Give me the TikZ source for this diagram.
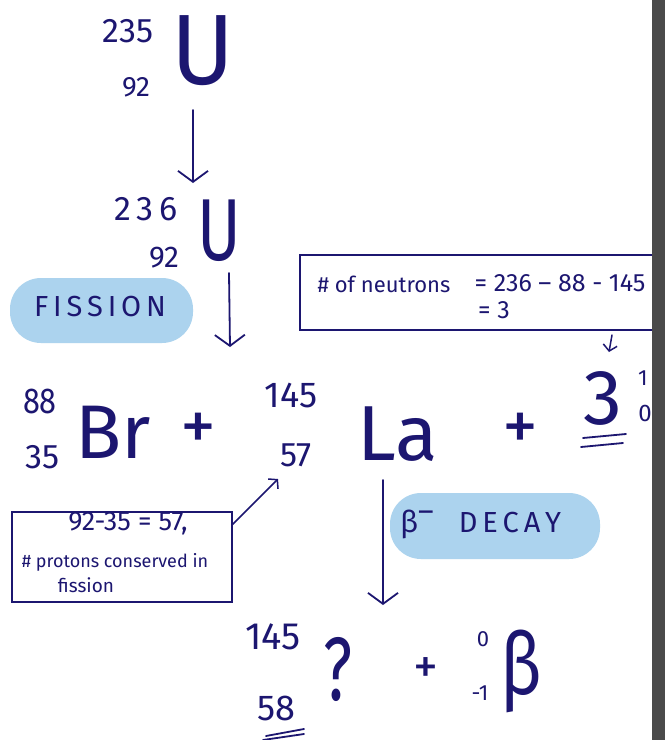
\documentclass[tikz,border=0pt]{standalone}
\usepackage{fontspec}
\setmainfont{Fira Sans}
\usetikzlibrary{arrows.meta}
\definecolor{ink}{RGB}{28,22,112}
\definecolor{pillblue}{RGB}{172,211,238}
\definecolor{sidebar}{RGB}{74,74,74}
\newcommand{\fsz}[1]{\fontsize{#1}{#1}\selectfont}
\begin{document}
\begin{tikzpicture}[x=1pt,y=-1pt,
  every node/.style={text=ink, inner sep=0pt},
  arr/.style={draw=ink, line width=1.8pt, line cap=round,
    -{Straight Barb[length=11pt,width=30pt,line width=1.8pt]}},
  smallarr/.style={draw=ink, line width=1.5pt, line cap=round,
    -{Straight Barb[length=6pt,width=14pt,line width=1.5pt]}},
  pillbox/.style={fill=pillblue, rounded corners=31pt},
  notebox/.style={draw=ink, line width=1.4pt, fill=white},
  uline/.style={draw=ink, line width=1.8pt, line cap=round}
]
\useasboundingbox (0,0) rectangle (665,740);
\fill[white] (0,0) rectangle (665,740);

% --- top: U-235 ---
\node[font=\fsz{34}] (m235) at (128,31) {235};
\node[font=\fsz{28}] (z235) at (136,87) {92};
\node[font=\fsz{100}, xscale=0.95] (U1) at (203,51) {U};
\coordinate (a1s) at (193,110);
\coordinate (a1e) at (193,183);
\draw[arr] (a1s) -- (a1e);

% --- U-236 ---
\node[font=\fsz{34}] (m236) at (146,209) {2\,3\,6};
\node[font=\fsz{30}] (z236) at (164,258) {92};
\node[font=\fsz{88}, xscale=0.75] (U2) at (219,231) {U};
\coordinate (a2s) at (229,273);
\coordinate (a2e) at (230,347);
\draw[arr] (a2s) -- (a2e);

% --- FISSION pill ---
\node[pillbox, minimum width=183pt, minimum height=65pt] (fission) at (101.5,310.5) {};
\node[font=\fsz{29}] (fissiontxt) at (100,307) {F\,I\,S\,S\,I\,O\,N};

% --- neutron note ---
\node[notebox, minimum width=360pt, minimum height=75pt] (note1) at (480,292.5) {};
\node[font=\fsz{22}] (nt1) at (384,284) {\# of neutrons};
\node[font=\fsz{25}] (nt2) at (560,283) {= 236 – 88 - 145};
\node[font=\fsz{25}] (nt3) at (494,310) {= 3};
\coordinate (a3s) at (612,335);
\coordinate (a3e) at (609,352);
\draw[smallarr] (a3s) -- (a3e);

% --- fission products row ---
\node[font=\fsz{36}, xscale=0.85] (m88) at (40,401) {88};
\node[font=\fsz{34}] (z35) at (43,457) {35};
\node[font=\fsz{76}] (br) at (113,432) {Br};
\node[font=\fsz{72}] (plus1) at (198,432) {+};
\node[font=\fsz{36}] (m145a) at (291,395) {145};
\node[font=\fsz{34}] (z57) at (296,455) {57};
\node[font=\fsz{78}] (la) at (398,434) {La};
\node[font=\fsz{72}] (plus2) at (520,432) {+};
\node[font=\fsz{78}] (three) at (603,398) {3};
\node[font=\fsz{22}] (nm1) at (643,378) {1};
\node[font=\fsz{24}] (nz0) at (645,413) {0};
\draw[uline] (583,438) -- (626,434);
\draw[uline] (581,447) -- (623,443);

% --- beta decay arrow and pill ---
\coordinate (a4s) at (383,480);
\coordinate (a4e) at (383,605);
\draw[arr] (a4s) -- (a4e);
\node[pillbox, minimum width=210pt, minimum height=66pt] (decay) at (495,526) {};
\node[font=\fsz{30}] (betam) at (417,524) {β\raisebox{0.35em}{–}};
\node[font=\fsz{29}] (decaytxt) at (510,523) {D\,E\,C\,A\,Y};

% --- proton note ---
\node[notebox, minimum width=220pt, minimum height=90pt] (note2) at (122,557) {};
\node[font=\fsz{27}] (pt1) at (128,524) {92-35 = 57,};
\node[font=\fsz{18}] (pt2) at (115,562) {\# protons conserved in};
\node[font=\fsz{19}] (pt3) at (86,585) {fission};
\coordinate (a5e) at (278,479);
\draw[smallarr] ([yshift=-13pt]note2.north east) -- (a5e);

% --- bottom: beta decay products ---
\node[font=\fsz{38}] (m145b) at (273,637) {145};
\node[font=\fsz{36}] (z58) at (276,708) {58};
\draw[uline] (263,740) -- (304,734);
\draw[uline] (266,736) -- (304,729);
\node[font=\fsz{90}, xscale=0.7] (qmark) at (338,669) {?};
\node[font=\fsz{50}] (plus3) at (426,671) {+};
\node[font=\fsz{22}] (b0) at (483,639) {0};
\node[font=\fsz{22}] (bm1) at (480,693) {-1};
\node[font=\fsz{86}, xscale=0.8] (beta) at (521,671) {β};

% --- right side bar ---
\fill[sidebar] (652,0) rectangle (665,740);
\end{tikzpicture}
\end{document}
